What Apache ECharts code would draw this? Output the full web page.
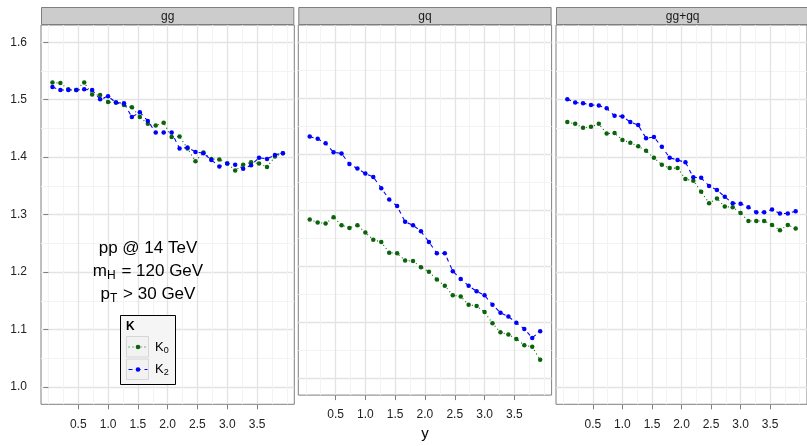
<!DOCTYPE html>
<html>
<head>
<meta charset="utf-8">
<script src="https://cdn.jsdelivr.net/npm/echarts@6/dist/echarts.min.js"></script>
<style>
  html, body { margin: 0; padding: 0; background: #ffffff; }
  #chart { width: 807px; height: 446px; }
</style>
</head>
<body>
<div id="chart"></div>
<script>
// Rapidity bin centres
const rapidity = [0.067, 0.2, 0.333, 0.467, 0.6, 0.733, 0.867, 1.0, 1.133, 1.267,
                  1.4, 1.533, 1.667, 1.8, 1.933, 2.067, 2.2, 2.333, 2.467, 2.6,
                  2.733, 2.867, 3.0, 3.133, 3.267, 3.4, 3.533, 3.667, 3.8, 3.933];

// K-factors per channel
const ggK0 = [1.530, 1.529, 1.518, 1.517, 1.530, 1.509, 1.508, 1.496, 1.495, 1.491,
              1.487, 1.470, 1.458, 1.455, 1.460, 1.435, 1.436, 1.415, 1.393, 1.408,
              1.397, 1.396, 1.389, 1.377, 1.387, 1.391, 1.389, 1.383, 1.401, 1.407];
const ggK2 = [1.522, 1.517, 1.517, 1.517, 1.518, 1.517, 1.501, 1.506, 1.495, 1.494,
              1.470, 1.478, 1.463, 1.443, 1.443, 1.443, 1.415, 1.417, 1.409, 1.407,
              1.395, 1.384, 1.389, 1.387, 1.380, 1.386, 1.399, 1.397, 1.404, 1.407];
const gqK0 = [1.283, 1.278, 1.276, 1.287, 1.273, 1.268, 1.273, 1.260, 1.247, 1.243,
              1.224, 1.223, 1.210, 1.209, 1.198, 1.190, 1.176, 1.165, 1.148, 1.146,
              1.131, 1.129, 1.118, 1.098, 1.082, 1.078, 1.070, 1.059, 1.056, 1.033];
const gqK2 = [1.431, 1.427, 1.419, 1.403, 1.401, 1.382, 1.374, 1.365, 1.359, 1.339,
              1.319, 1.307, 1.279, 1.273, 1.262, 1.243, 1.223, 1.223, 1.191, 1.177,
              1.165, 1.155, 1.148, 1.131, 1.117, 1.110, 1.099, 1.088, 1.072, 1.084];
const sumK0 = [1.461, 1.458, 1.451, 1.453, 1.458, 1.441, 1.442, 1.430, 1.425, 1.419,
               1.411, 1.399, 1.387, 1.381, 1.381, 1.362, 1.359, 1.340, 1.320, 1.328,
               1.314, 1.313, 1.303, 1.289, 1.289, 1.289, 1.282, 1.273, 1.282, 1.276];
const sumK2 = [1.501, 1.495, 1.494, 1.491, 1.490, 1.485, 1.472, 1.471, 1.461, 1.456,
               1.433, 1.435, 1.418, 1.399, 1.395, 1.391, 1.365, 1.364, 1.350, 1.343,
               1.331, 1.320, 1.319, 1.313, 1.304, 1.304, 1.309, 1.302, 1.302, 1.306];

const channels = ['gg', 'gq', 'gg+gq'];
const channelK0 = [ggK0, gqK0, sumK0];
const channelK2 = [ggK2, gqK2, sumK2];

// Axis breaks
const xMajor = [0.5, 1.0, 1.5, 2.0, 2.5, 3.0, 3.5];
const xMinor = [0, 0.25, 0.75, 1.25, 1.75, 2.25, 2.75, 3.25, 3.75, 4.0];
const yMajor = [1.0, 1.1, 1.2, 1.3, 1.4, 1.5, 1.6];
const yMinor = [1.05, 1.15, 1.25, 1.35, 1.45, 1.55];

const X_MIN = -0.125, X_MAX = 4.125;
const Y_MIN = 0.97, Y_MAX = 1.63;

const FONT = '"Liberation Sans", Arial, Helvetica, sans-serif';
const K0_COLOR = '#0a640a';
const K2_COLOR = '#0000ff';
const GRID_MAJOR = '#e3e3e3';
const GRID_MINOR = '#f3f3f3';
const FRAME = '#7f7f7f';

// Panel geometry
const panelLefts = [41, 298.3, 556];
const PANEL_W = 253.3;
const PANEL_TOP = 25;
const PANEL_H = 379.3;
const STRIP_TOP = 7;

const grids = [], xAxes = [], yAxes = [], series = [], graphics = [];

channels.forEach((name, p) => {
  grids.push({
    left: panelLefts[p], top: PANEL_TOP, width: PANEL_W, height: PANEL_H,
    show: true, backgroundColor: '#ffffff', borderColor: FRAME, borderWidth: 1,
    containLabel: false
  });

  // minor grid axes
  xAxes.push({
    type: 'value', gridIndex: p, min: X_MIN, max: X_MAX, position: 'top',
    axisLine: { show: false },
    axisTick: { show: false, customValues: xMinor },
    axisLabel: { show: false },
    splitLine: { show: true, lineStyle: { color: GRID_MINOR, width: 1 } }
  });
  yAxes.push({
    type: 'value', gridIndex: p, min: Y_MIN, max: Y_MAX, position: 'right',
    axisLine: { show: false },
    axisTick: { show: false, customValues: yMinor },
    axisLabel: { show: false },
    splitLine: { show: true, lineStyle: { color: GRID_MINOR, width: 1 } }
  });

  // major axes
  xAxes.push({
    type: 'value', gridIndex: p, min: X_MIN, max: X_MAX, position: 'bottom',
    name: p === 1 ? 'y' : '', nameLocation: 'middle', nameGap: 30,
    nameTextStyle: { fontFamily: FONT, fontSize: 15, color: '#000' },
    axisLine: { show: false },
    axisTick: { show: true, customValues: xMajor, length: 5, lineStyle: { color: FRAME, width: 1 } },
    axisLabel: { show: true, customValues: xMajor, formatter: v => v.toFixed(1),
                 color: '#222', fontFamily: FONT, fontSize: 12, margin: 14 },
    splitLine: { show: true, lineStyle: { color: GRID_MAJOR, width: 1.3 } }
  });
  yAxes.push({
    type: 'value', gridIndex: p, min: Y_MIN, max: Y_MAX, position: 'left',
    axisLine: { show: false },
    axisTick: { show: p === 0, customValues: yMajor, length: 5, lineStyle: { color: FRAME, width: 1 } },
    axisLabel: { show: p === 0, customValues: yMajor, formatter: v => v.toFixed(1),
                 color: '#222', fontFamily: FONT, fontSize: 12, margin: 14 },
    splitLine: { show: true, lineStyle: { color: GRID_MAJOR, width: 1.3 } }
  });

  const xi = 2 * p + 1;
  series.push({
    name: 'K0', type: 'line', xAxisIndex: xi, yAxisIndex: xi,
    data: rapidity.map((x, i) => [x, channelK0[p][i]]),
    symbol: 'circle', symbolSize: 4.5, showSymbol: true, showAllSymbol: true,
    lineStyle: { color: K0_COLOR, width: 1.1, type: [1, 3] },
    itemStyle: { color: K0_COLOR },
    animation: false, silent: true, z: 3
  });
  series.push({
    name: 'K2', type: 'line', xAxisIndex: xi, yAxisIndex: xi,
    data: rapidity.map((x, i) => [x, channelK2[p][i]]),
    symbol: 'circle', symbolSize: 4.5, showSymbol: true, showAllSymbol: true,
    lineStyle: { color: K2_COLOR, width: 1.1, type: [4, 4] },
    itemStyle: { color: K2_COLOR },
    animation: false, silent: true, z: 4
  });

  // facet strip
  graphics.push({
    type: 'rect', z: 10,
    shape: { x: panelLefts[p] + 0.5, y: STRIP_TOP + 0.5, width: PANEL_W - 1, height: PANEL_TOP - STRIP_TOP - 1 },
    style: { fill: '#cccccc', stroke: FRAME, lineWidth: 1 }
  });
  graphics.push({
    type: 'text', z: 11, x: panelLefts[p] + PANEL_W / 2, y: (STRIP_TOP + PANEL_TOP) / 2 + 0.5,
    style: { text: name, fontFamily: FONT, fontSize: 12, fill: '#1a1a1a', align: 'center', verticalAlign: 'middle' }
  });
});

// Process annotation
const annoRich = {
  m: { fontFamily: FONT, fontSize: 17, lineHeight: 22, verticalAlign: 'middle', fill: '#000' },
  s: { fontFamily: FONT, fontSize: 12, lineHeight: 12, verticalAlign: 'bottom', padding: [0, 1, 0, 0], fill: '#000' }
};
[
  { y: 248, text: '{m|pp @ 14 TeV}' },
  { y: 271, text: '{m|m}{s|H}{m| = 120 GeV}' },
  { y: 294, text: '{m|p}{s|T}{m| > 30 GeV}' }
].forEach(l => graphics.push({
  type: 'text', z: 12, x: 148, y: l.y,
  style: { text: l.text, rich: annoRich, align: 'center', verticalAlign: 'middle' }
}));

// Legend box
const LEG = { x: 120, y: 315, w: 55, h: 69 };
graphics.push({
  type: 'rect', z: 12,
  shape: { x: LEG.x + 0.5, y: LEG.y + 0.5, width: LEG.w, height: LEG.h },
  style: { fill: '#f5f5f5', stroke: '#000000', lineWidth: 1 }
});
graphics.push({
  type: 'text', z: 13, x: 126, y: 327,
  style: { text: 'K', fontFamily: FONT, fontSize: 12, fontWeight: 'bold', fill: '#000', verticalAlign: 'middle' }
});
const legRich = {
  k: { fontFamily: FONT, fontSize: 13, lineHeight: 16, verticalAlign: 'middle', fill: '#000' },
  s: { fontFamily: FONT, fontSize: 9, lineHeight: 9, verticalAlign: 'bottom', fill: '#000' }
};
[
  { y: 336, color: K0_COLOR, dash: [1, 3], label: '{k|K}{s|0}' },
  { y: 358.5, color: K2_COLOR, dash: [4, 4], label: '{k|K}{s|2}' }
].forEach(k => {
  graphics.push({
    type: 'rect', z: 13,
    shape: { x: 126.5, y: k.y + 0.5, width: 22, height: 20.5 },
    style: { fill: '#f2f2f2', stroke: '#d6d6d6', lineWidth: 1 }
  });
  graphics.push({
    type: 'line', z: 14,
    shape: { x1: 128.5, y1: k.y + 11, x2: 147.5, y2: k.y + 11 },
    style: { stroke: k.color, lineWidth: 1.1, lineDash: k.dash }
  });
  graphics.push({
    type: 'circle', z: 15,
    shape: { cx: 138, cy: k.y + 11, r: 2.3 },
    style: { fill: k.color }
  });
  graphics.push({
    type: 'text', z: 14, x: 155, y: k.y + 11,
    style: { text: k.label, rich: legRich, verticalAlign: 'middle' }
  });
});

const chart = echarts.init(document.getElementById('chart'), null, { renderer: 'canvas' });
chart.setOption({
  backgroundColor: '#ffffff',
  animation: false,
  grid: grids,
  xAxis: xAxes,
  yAxis: yAxes,
  series: series,
  graphic: graphics
});
</script>
</body>
</html>
